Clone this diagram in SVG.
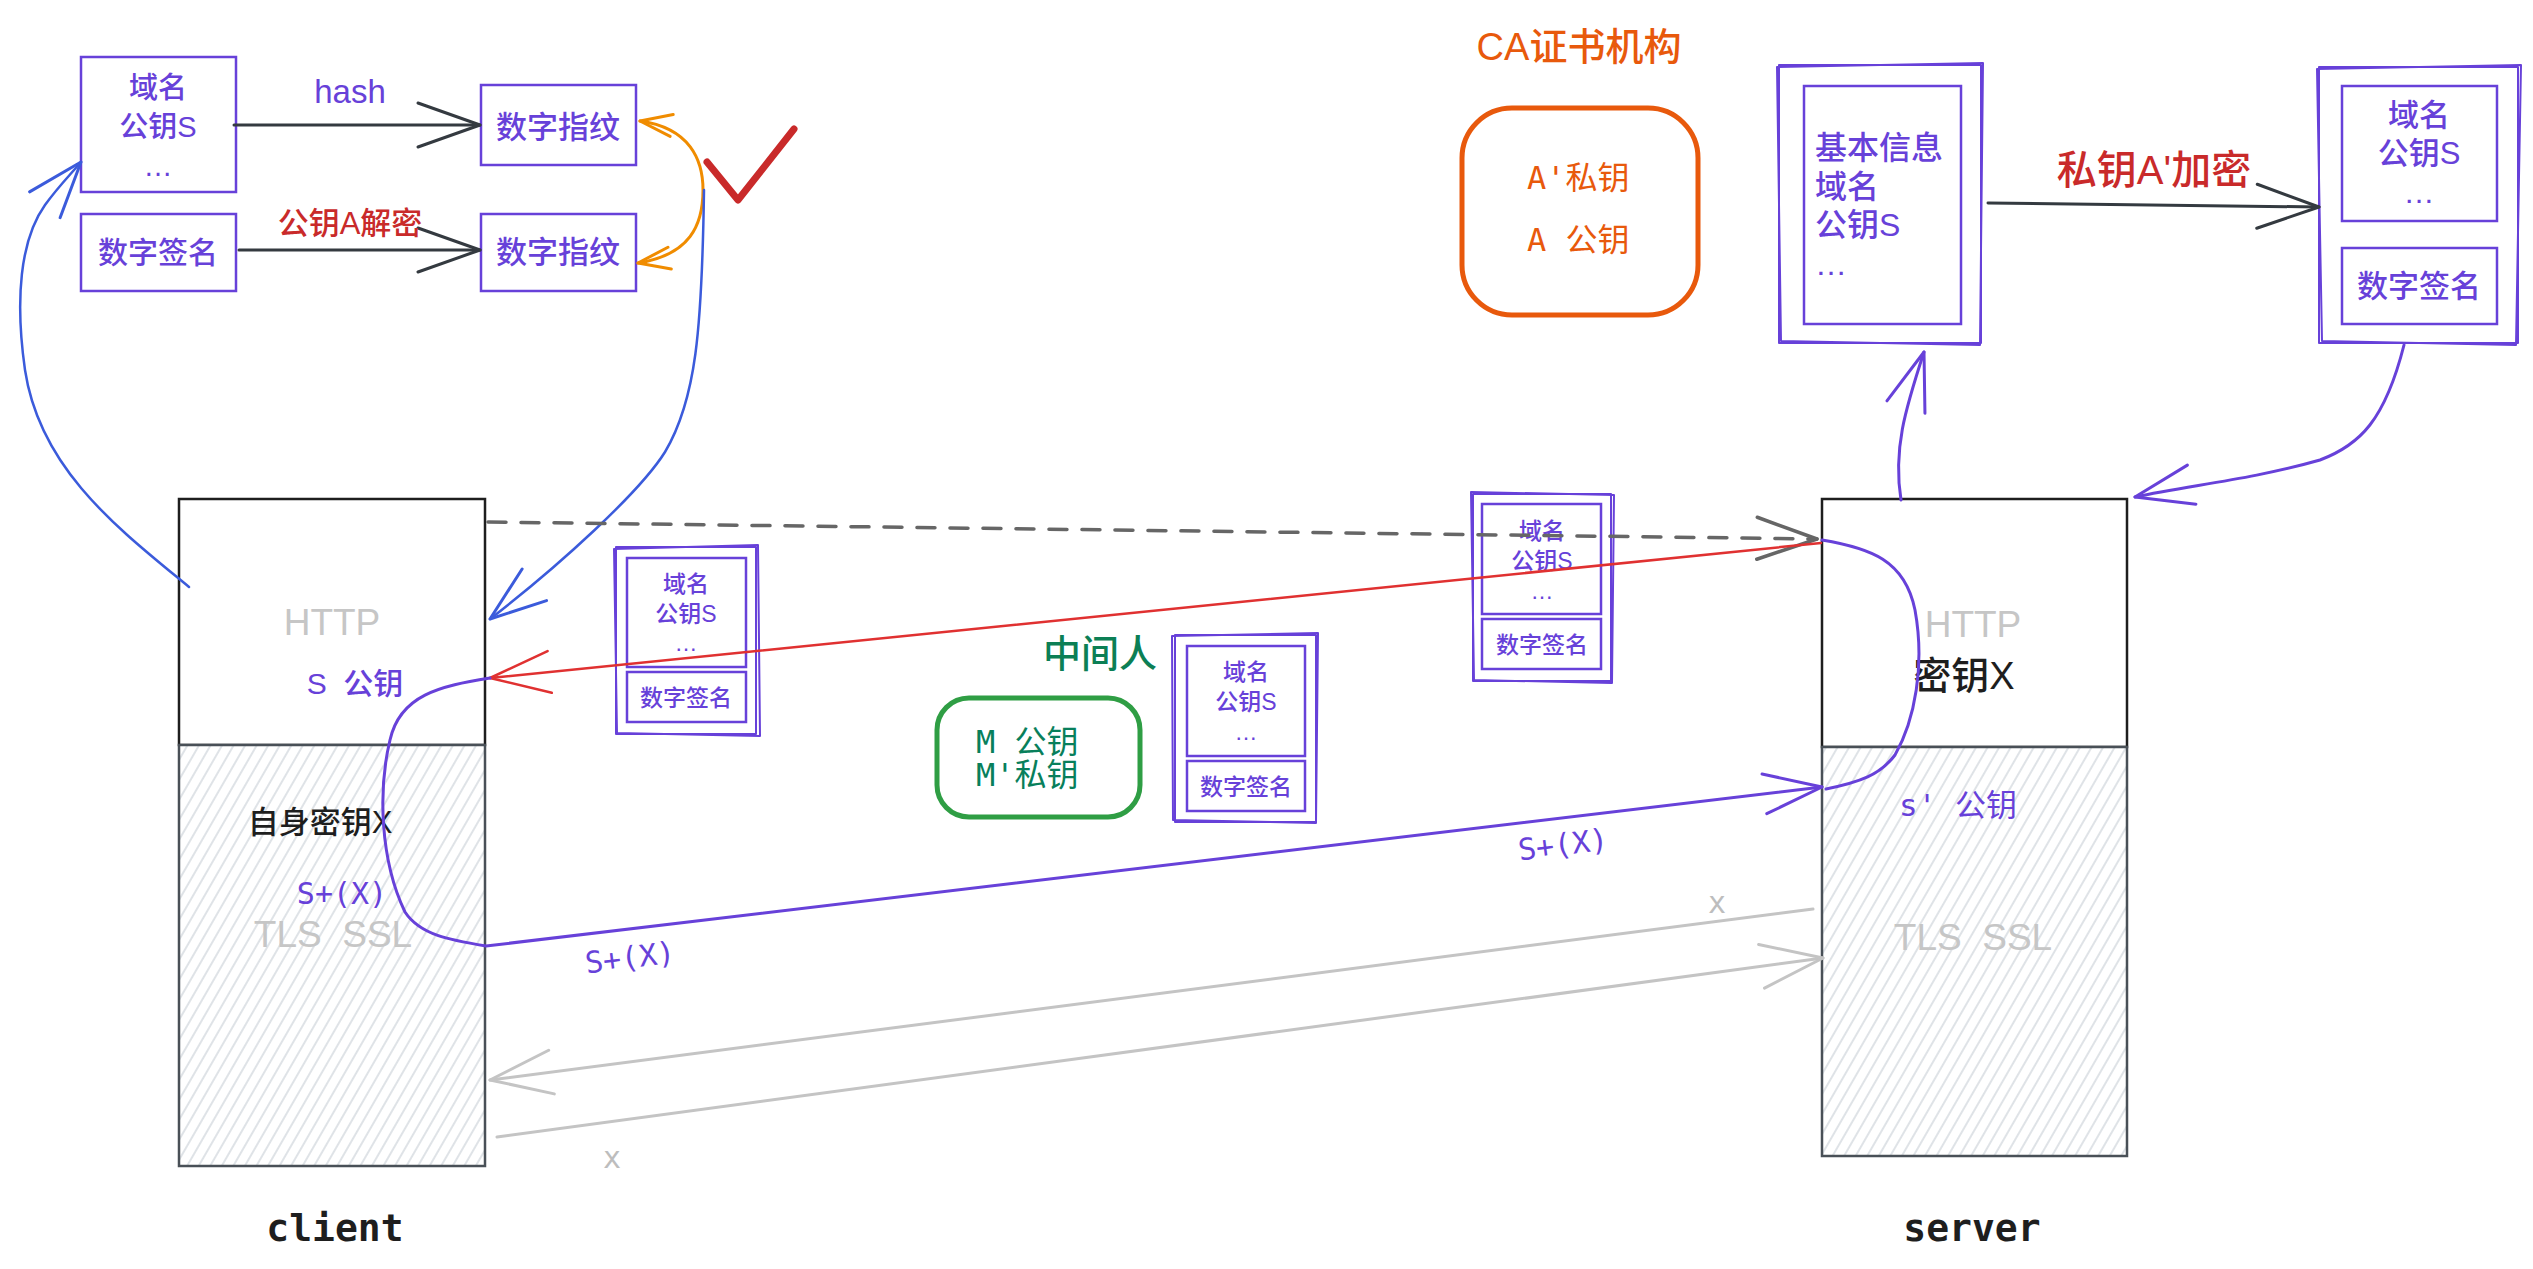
<svg xmlns="http://www.w3.org/2000/svg" width="2533" height="1269" viewBox="0 0 2533 1269">
<defs>
<style>
.sans{font-family:"Liberation Sans","Noto Sans CJK SC",sans-serif;font-weight:500}
.mono{font-family:"DejaVu Sans Mono","Noto Sans CJK SC",monospace}
.pur{fill:#6741d9}
.gry{fill:#c6c6c6}
.box{fill:none;stroke:#6741d9;stroke-width:2.5}
.sk{fill:none;stroke:#6741d9;stroke-width:2;stroke-linejoin:round}
.c{fill:none;stroke-linecap:round;stroke-linejoin:round}
.mid{text-anchor:middle}
</style>
<pattern id="hatch" patternUnits="userSpaceOnUse" width="10" height="10" patternTransform="rotate(30)">
<rect width="10" height="10" fill="#ffffff"/>
<line x1="5" y1="-1" x2="5" y2="11" stroke="#ced4da" stroke-width="1.3"/>
</pattern>
<marker id="aD" markerUnits="userSpaceOnUse" markerWidth="10" markerHeight="10" refX="0" refY="0" orient="auto" overflow="visible"><path d="M-62,-22 L0,0 L-62,22" fill="none" stroke="#343a40" stroke-width="3" stroke-linecap="round" stroke-linejoin="round"/></marker>
<marker id="aG" markerUnits="userSpaceOnUse" markerWidth="10" markerHeight="10" refX="0" refY="0" orient="auto" overflow="visible"><path d="M-60,-21 L0,0 L-60,21" fill="none" stroke="#666666" stroke-width="3.5" stroke-linecap="round" stroke-linejoin="round"/></marker>
<marker id="aR" markerUnits="userSpaceOnUse" markerWidth="10" markerHeight="10" refX="0" refY="0" orient="auto" overflow="visible"><path d="M-60,-21 L0,0 L-60,21" fill="none" stroke="#e03131" stroke-width="2.5" stroke-linecap="round" stroke-linejoin="round"/></marker>
<marker id="aP" markerUnits="userSpaceOnUse" markerWidth="10" markerHeight="10" refX="0" refY="0" orient="auto" overflow="visible"><path d="M-58,-20 L0,0 L-58,20" fill="none" stroke="#6741d9" stroke-width="3" stroke-linecap="round" stroke-linejoin="round"/></marker>
<marker id="aB" markerUnits="userSpaceOnUse" markerWidth="10" markerHeight="10" refX="0" refY="0" orient="auto" overflow="visible"><path d="M-56,-20 L0,0 L-56,20" fill="none" stroke="#3b5bdb" stroke-width="3" stroke-linecap="round" stroke-linejoin="round"/></marker>
<marker id="aO" markerUnits="userSpaceOnUse" markerWidth="10" markerHeight="10" refX="0" refY="0" orient="auto-start-reverse" overflow="visible"><path d="M-32,-11 L0,0 L-32,11" fill="none" stroke="#f08c00" stroke-width="3" stroke-linecap="round" stroke-linejoin="round"/></marker>
<marker id="aL" markerUnits="userSpaceOnUse" markerWidth="10" markerHeight="10" refX="0" refY="0" orient="auto" overflow="visible"><path d="M-62,-22 L0,0 L-62,22" fill="none" stroke="#c4c4c4" stroke-width="3" stroke-linecap="round" stroke-linejoin="round"/></marker>
</defs>
<rect x="0" y="0" width="2533" height="1269" fill="#ffffff"/>

<!-- top-left certificate pieces -->
<g id="info-left">
<rect class="box" x="81" y="57" width="155" height="135"/>
<text class="sans pur mid" x="158" y="98" font-size="29">域名</text>
<text class="sans pur mid" x="158" y="137" font-size="29">公钥S</text>
<text class="sans pur mid" x="158" y="176" font-size="29">…</text>
</g>
<g id="sig-left">
<rect class="box" x="81" y="214" width="155" height="77"/>
<text class="sans pur mid" x="158" y="263" font-size="30">数字签名</text>
</g>
<g id="fp-top">
<rect class="box" x="481" y="85" width="155" height="80"/>
<text class="sans pur mid" x="558" y="138" font-size="31">数字指纹</text>
</g>
<g id="fp-bottom">
<rect class="box" x="481" y="214" width="155" height="77"/>
<text class="sans pur mid" x="558" y="263" font-size="31">数字指纹</text>
</g>
<g id="check">
<polyline points="707,162 738,200 794,129" fill="none" stroke="#c92a2a" stroke-width="7" stroke-linecap="round" stroke-linejoin="round"/>
</g>

<!-- CA -->
<g id="ca">
<text class="sans mid" x="1579" y="60" font-size="38" fill="#e8590c">CA证书机构</text>
<rect x="1462" y="108" width="236" height="207" rx="50" fill="none" stroke="#e8590c" stroke-width="5"/>
<text class="mono" x="1527" y="189" font-size="32" fill="#e8590c">A'私钥</text>
<text class="mono" x="1527" y="251" font-size="32" fill="#e8590c" xml:space="preserve">A 公钥</text>
</g>

<g id="base-info">
<rect class="sk" x="1779" y="65" width="202" height="278"/>
<path class="sk" d="M1777,67 L1983,63 L1980,345 L1781,341 Z"/>
<rect class="box" x="1804" y="86" width="157" height="238"/>
<text class="sans pur" x="1815" y="159" font-size="32">基本信息</text>
<text class="sans pur" x="1815" y="198" font-size="32">域名</text>
<text class="sans pur" x="1815" y="236" font-size="32">公钥S</text>
<text class="sans pur" x="1815" y="275" font-size="32">…</text>
</g>

<g id="cert-right">
<rect class="sk" x="2319" y="67" width="199" height="276"/>
<path class="sk" d="M2317,69 L2521,65 L2516,345 L2322,341 Z"/>
<rect class="box" x="2342" y="86" width="155" height="135"/>
<rect class="box" x="2342" y="248" width="155" height="76"/>
<text class="sans pur mid" x="2419" y="126" font-size="31">域名</text>
<text class="sans pur mid" x="2419" y="164" font-size="31">公钥S</text>
<text class="sans pur mid" x="2419" y="203" font-size="31">…</text>
<text class="sans pur mid" x="2419" y="297" font-size="31">数字签名</text>
</g>

<!-- client -->
<g id="client">
<rect x="179" y="499" width="306" height="246" fill="#ffffff" stroke="#1e1e1e" stroke-width="2.5"/>
<rect x="179" y="745" width="306" height="421" fill="url(#hatch)" stroke="#495057" stroke-width="2.5"/>
<text class="sans gry mid" x="332" y="635" font-size="37">HTTP</text>
<text class="sans pur mid" x="355" y="694" font-size="30" xml:space="preserve">S  公钥</text>
<text class="sans mid" x="320" y="833" font-size="31" fill="#1e1e1e">自身密钥X</text>
<text class="mono pur mid" x="342" y="904" font-size="30">S+(X)</text>
<text class="sans gry mid" x="333" y="947" font-size="37" xml:space="preserve">TLS  SSL</text>
<text class="mono mid" x="335" y="1241" font-size="38" font-weight="bold" fill="#1e1e1e">client</text>
</g>

<!-- server -->
<g id="server">
<rect x="1822" y="499" width="305" height="248" fill="#ffffff" stroke="#1e1e1e" stroke-width="2.5"/>
<rect x="1822" y="747" width="305" height="409" fill="url(#hatch)" stroke="#495057" stroke-width="2.5"/>
<text class="sans gry mid" x="1973" y="637" font-size="37">HTTP</text>
<text class="sans mid" x="1964" y="689" font-size="38" fill="#1e1e1e">密钥X</text>
<text class="mono pur mid" x="1958" y="816" font-size="31">s' 公钥</text>
<text class="sans gry mid" x="1973" y="950" font-size="37" xml:space="preserve">TLS  SSL</text>
<text class="mono mid" x="1972" y="1241" font-size="38" font-weight="bold" fill="#1e1e1e">server</text>
</g>

<!-- middle man -->
<g id="mitm">
<text class="sans mid" x="1100" y="667" font-size="38" fill="#0c7f55">中间人</text>
<rect x="937" y="698" width="203" height="119" rx="32" fill="none" stroke="#2f9e44" stroke-width="5"/>
<text class="mono" x="976" y="753" font-size="32" fill="#087f5b" xml:space="preserve">M 公钥</text>
<text class="mono" x="976" y="786" font-size="32" fill="#087f5b">M'私钥</text>
</g>

<g id="cert1" transform="translate(616,547)">
<rect class="sk" x="0" y="0" width="140" height="187"/>
<path class="sk" d="M-2,2 L142,-2 L144,189 L1,186 Z"/>
<rect class="box" x="11" y="11" width="119" height="109"/>
<rect class="box" x="11" y="125" width="119" height="50"/>
<text class="sans pur mid" x="70" y="45" font-size="23">域名</text>
<text class="sans pur mid" x="70" y="75" font-size="23">公钥S</text>
<text class="sans pur mid" x="70" y="104" font-size="23">…</text>
<text class="sans pur mid" x="70" y="159" font-size="23">数字签名</text>
</g>
<g id="cert2" transform="translate(1473,494)">
<rect class="sk" x="0" y="0" width="138" height="187"/>
<path class="sk" d="M-2,-2 L141,1 L139,189 L1,186 Z"/>
<rect class="box" x="9" y="10" width="119" height="110"/>
<rect class="box" x="9" y="125" width="119" height="50"/>
<text class="sans pur mid" x="69" y="45" font-size="23">域名</text>
<text class="sans pur mid" x="69" y="75" font-size="23">公钥S</text>
<text class="sans pur mid" x="69" y="105" font-size="23">…</text>
<text class="sans pur mid" x="69" y="159" font-size="23">数字签名</text>
</g>
<g id="cert3" transform="translate(1175,635)">
<rect class="sk" x="0" y="0" width="141" height="187"/>
<path class="sk" d="M-3,1 L143,-2 L141,188 L-2,185 Z"/>
<rect class="box" x="12" y="11" width="118" height="110"/>
<rect class="box" x="12" y="126" width="118" height="50"/>
<text class="sans pur mid" x="71" y="45" font-size="23">域名</text>
<text class="sans pur mid" x="71" y="75" font-size="23">公钥S</text>
<text class="sans pur mid" x="71" y="105" font-size="23">…</text>
<text class="sans pur mid" x="71" y="160" font-size="23">数字签名</text>
</g>

<!-- connectors -->
<g id="connectors">
<path class="c" d="M234,125 L480,125" stroke="#343a40" stroke-width="3" marker-end="url(#aD)"/>
<path class="c" d="M239,250 L480,250" stroke="#343a40" stroke-width="3" marker-end="url(#aD)"/>
<path class="c" d="M640,121 C690,128 703,160 703,190 C703,225 690,255 638,263" stroke="#f08c00" stroke-width="3" marker-start="url(#aO)" marker-end="url(#aO)"/>
<path class="c" d="M189,587 C120,530 40,470 25,370 C15,300 20,240 45,205 C58,187 70,175 81,162" stroke="#3b5bdb" stroke-width="2.5" marker-end="url(#aB)"/>
<path class="c" d="M704,190 C702,330 696,400 665,452 C640,492 560,565 490,619" stroke="#3b5bdb" stroke-width="2.5" marker-end="url(#aB)"/>
<path class="c" d="M488,522 L1817,539" stroke="#666666" stroke-width="3.5" stroke-dasharray="18 15" stroke-linecap="butt" marker-end="url(#aG)"/>
<path class="c" d="M1821,543 L490,678" stroke="#e03131" stroke-width="2.5" marker-end="url(#aR)"/>
<path class="c" d="M490,678 C440,686 400,695 390,740 C378,790 380,860 405,912 C420,935 450,940 486,946 L1822,787" stroke="#6741d9" stroke-width="3" marker-end="url(#aP)"/>
<path class="c" d="M1822,540 C1870,548 1905,560 1915,610 C1925,665 1915,720 1895,755 C1880,775 1860,782 1826,789" stroke="#6741d9" stroke-width="3"/>
<path class="c" d="M1813,909 L490,1080" stroke="#c4c4c4" stroke-width="3" marker-end="url(#aL)"/>
<path class="c" d="M497,1137 L1823,958" stroke="#c4c4c4" stroke-width="3" marker-end="url(#aL)"/>
<path class="c" d="M1901,500 C1893,450 1905,410 1924,352" stroke="#6741d9" stroke-width="3" marker-end="url(#aP)"/>
<path class="c" d="M2404,345 C2385,420 2360,445 2320,460 C2250,480 2190,485 2135,497" stroke="#6741d9" stroke-width="3" marker-end="url(#aP)"/>
<path class="c" d="M1988,203 L2319,207" stroke="#343a40" stroke-width="3" marker-end="url(#aD)"/>
<text class="sans pur mid" x="350" y="103" font-size="33">hash</text>
<text class="sans mid" x="350" y="234" font-size="31" fill="#c92a2a">公钥A解密</text>
<text class="sans mid" x="2154" y="184" font-size="40" fill="#c92a2a">私钥A'加密</text>
<text class="mono pur mid" x="630" y="968" font-size="30" transform="rotate(-7 630 958)">S+(X)</text>
<text class="mono pur mid" x="1563" y="855" font-size="30" transform="rotate(-7 1563 845)">S+(X)</text>
<text class="mono mid" x="1717" y="913" font-size="30" fill="#bdbdbd">x</text>
<text class="mono mid" x="612" y="1168" font-size="30" fill="#bdbdbd">x</text>
</g>
</svg>
